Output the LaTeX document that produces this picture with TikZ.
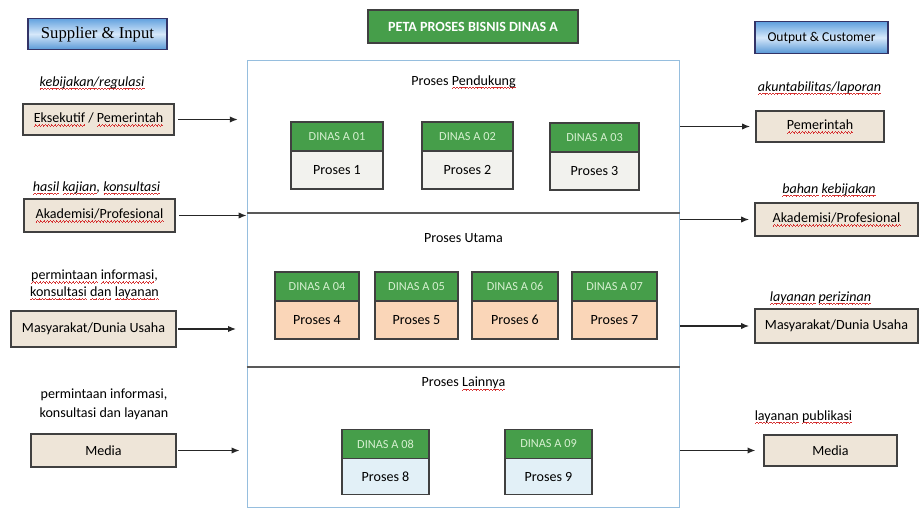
\documentclass[tikz,border=0pt]{standalone}
\usepackage{fontspec}
\setmainfont{Carlito}
\newfontfamily\capfont{Liberation Serif}
\usetikzlibrary{arrows.meta,positioning}
\definecolor{dinasgreen}{RGB}{70,158,74}
\definecolor{headtext}{RGB}{214,240,208}
\definecolor{actorfill}{RGB}{238,229,216}
\definecolor{edgegray}{RGB}{64,64,64}
\definecolor{frameblue}{RGB}{150,190,222}
\definecolor{pendfill}{RGB}{242,242,238}
\definecolor{utamafill}{RGB}{250,214,184}
\definecolor{lainfill}{RGB}{226,240,247}
\definecolor{spellred}{RGB}{214,50,50}
\definecolor{sidetop}{RGB}{96,160,222}
\definecolor{sidemid}{RGB}{214,232,250}
\definecolor{sidebot}{RGB}{88,152,214}
\newsavebox\spellbox
\newcommand\wavebit{\rule[-2.1pt]{0.45pt}{0.4pt}\rule[-1.75pt]{0.45pt}{0.4pt}\rule[-1.4pt]{0.45pt}{0.4pt}\rule[-1.75pt]{0.45pt}{0.4pt}}
\newcommand\spell[1]{\sbox\spellbox{#1}\rlap{\textcolor{spellred}{\hbox to\wd\spellbox{\xleaders\hbox{\wavebit}\hfil}}}\usebox\spellbox}

\begin{document}
\begin{tikzpicture}[x=0.02cm,y=-0.02cm,>={Latex[length=4.5pt,width=3.6pt]},
  every node/.style={font=\fontsize{8}{9.5}\selectfont,inner sep=1pt},
  actor/.style={draw=edgegray,line width=0.8pt,fill=actorfill,minimum height=0.62cm},
  lab/.style={align=center},
  side/.style={draw=edgegray!80!blue,line width=0.8pt,top color=sidetop,bottom color=sidebot,
               middle color=sidemid,minimum height=0.63cm},
  dhead/.style={draw=edgegray,line width=0.8pt,outer sep=0pt,fill=dinasgreen,text=headtext,
                minimum width=#1,minimum height=0.58cm,font=\fontsize{7}{8}\selectfont},
  dbody/.style={draw=edgegray,line width=0.8pt,outer sep=0pt,minimum width=#1,minimum height=0.76cm},
  arr/.style={->,line width=0.7pt,draw=black!85}]
\useasboundingbox (0,0) rectangle (919,516);

\node[side,minimum width=2.78cm,font=\capfont\fontsize{9.5}{11}\selectfont] (supplier) at (97.5,34) {Supplier \& Input};
\node[side,minimum width=2.66cm,font=\fontsize{7.7}{9}\selectfont] (output) at (821.5,37.5) {Output \& Customer};
\node[draw=edgegray,line width=0.8pt,fill=dinasgreen,text=white,minimum width=4.2cm,minimum height=0.66cm,
      font=\bfseries\fontsize{8}{9}\selectfont] (title) at (473,26.5) {PETA PROSES BISNIS DINAS A};

\node[draw=frameblue,line width=0.6pt,minimum width=8.66cm,minimum height=8.96cm] (frame) at (463.5,284) {};
\draw[black!65,line width=0.8pt] (frame.west |- 0,213) -- (frame.east |- 0,213);
\draw[black!65,line width=0.8pt] (frame.west |- 0,367) -- (frame.east |- 0,367);

\node (pendukung) at (463.5,82) {Proses \spell{Pendukung}};
\node (utama) at (463.5,238) {Proses Utama};
\node (lainnya) at (463.5,384) {Proses \spell{Lainnya}};

\node[dhead=1.84cm] (d01) at (337,136.5) {DINAS A 01};
\node[dbody=1.84cm,fill=pendfill,below=0pt of d01] (p01) {Proses 1};
\node[dhead=1.82cm] (d02) at (467.5,136.5) {DINAS A 02};
\node[dbody=1.82cm,fill=pendfill,below=0pt of d02] (p02) {Proses 2};
\node[dhead=1.78cm] (d03) at (594.5,137.5) {DINAS A 03};
\node[dbody=1.78cm,fill=pendfill,below=0pt of d03] (p03) {Proses 3};

\node[dhead=1.68cm] (d04) at (317,286.5) {DINAS A 04};
\node[dbody=1.68cm,fill=utamafill,below=0pt of d04] (p04) {Proses 4};
\node[dhead=1.66cm] (d05) at (416.5,286.5) {DINAS A 05};
\node[dbody=1.66cm,fill=utamafill,below=0pt of d05] (p05) {Proses 5};
\node[dhead=1.72cm] (d06) at (515,286.5) {DINAS A 06};
\node[dbody=1.72cm,fill=utamafill,below=0pt of d06] (p06) {Proses 6};
\node[dhead=1.70cm] (d07) at (614.5,286.5) {DINAS A 07};
\node[dbody=1.70cm,fill=utamafill,below=0pt of d07] (p07) {Proses 7};

\node[dhead=1.74cm] (d08) at (385.5,444) {DINAS A 08};
\node[dbody=1.74cm,fill=lainfill,minimum height=0.72cm,below=0pt of d08] (p08) {Proses 8};
\node[dhead=1.74cm] (d09) at (548.5,444) {DINAS A 09};
\node[dbody=1.74cm,fill=lainfill,minimum height=0.72cm,below=0pt of d09] (p09) {Proses 9};

\node[lab] (kebijakan) at (92,83) {\itshape\spell{kebijakan/regulasi}};
\node[actor,minimum width=3.02cm] (eksekutif) at (98.5,119.5) {\spell{Eksekutif} / \spell{Pemerintah}};
\node[lab] (kajian) at (96.5,188) {\itshape\spell{hasil} \spell{kajian}, \spell{konsultasi}};
\node[actor,minimum width=3.02cm,minimum height=0.66cm] (akademisiIn) at (99.5,215.5) {\spell{Akademisi/Profesional}};
\node[lab] (mintaA) at (94.5,285) {\spell{permintaan} \spell{informasi},\\\spell{konsultasi} \spell{dan} \spell{layanan}};
\node[actor,minimum width=3.3cm,minimum height=0.72cm] (masyIn) at (93.5,329) {Masyarakat/Dunia Usaha};
\node[lab,font=\fontsize{8}{11}\selectfont] (mintaB) at (104,404) {permintaan informasi,\\konsultasi dan layanan};
\node[actor,minimum width=2.9cm,minimum height=0.66cm] (mediaIn) at (103.5,450.5) {Media};

\node[lab] (akuntabilitas) at (819.5,88) {\itshape\spell{akuntabilitas/laporan}};
\node[actor,minimum width=2.56cm] (pemOut) at (820,126.5) {\spell{Pemerintah}};
\node[lab] (bahan) at (829,190) {\itshape\spell{bahan} \spell{kebijakan}};
\node[actor,minimum width=3.26cm,minimum height=0.66cm] (akademisiOut) at (836.5,219.5) {\spell{Akademisi/Profesional}};
\node[lab] (perizinan) at (820.5,298) {\itshape\spell{layanan} \spell{perizinan}};
\node[actor,minimum width=3.26cm,minimum height=0.68cm] (masyOut) at (836.5,326) {Masyarakat/Dunia Usaha};
\node[lab] (publikasi) at (803.5,417) {\spell{layanan} \spell{publikasi}};
\node[actor,minimum width=2.66cm] (mediaOut) at (830.5,450.5) {Media};

\draw[arr,shorten <=2pt,shorten >=5pt] (eksekutif.east) -- (eksekutif.east -| frame.west);
\draw[arr,shorten <=2pt] (akademisiIn.east) -- (akademisiIn.east -| frame.west);
\draw[arr,shorten <=1pt,shorten >=6pt] (masyIn.east) -- (masyIn.east -| frame.west);
\draw[arr,shorten <=1pt,shorten >=4pt] (mediaIn.east) -- (mediaIn.east -| frame.west);
\draw[arr,shorten >=3pt] (pemOut.west -| frame.east) -- (pemOut.west);
\draw[arr,shorten >=3pt] (akademisiOut.west -| frame.east) -- (akademisiOut.west);
\draw[arr,shorten >=3pt] (masyOut.west -| frame.east) -- (masyOut.west);
\draw[arr,shorten >=4.5pt] (mediaOut.west -| frame.east) -- (mediaOut.west);
\end{tikzpicture}
\end{document}
